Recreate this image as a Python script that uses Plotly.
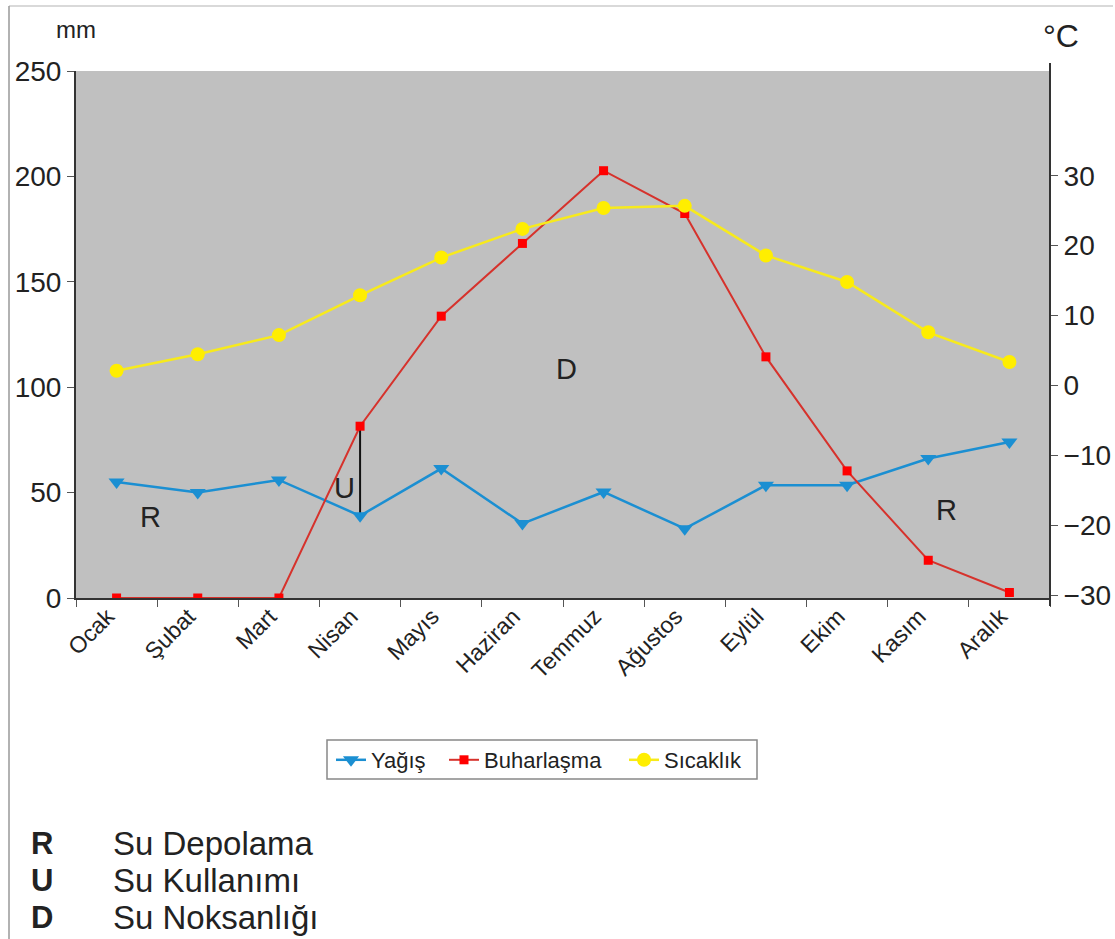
import plotly.graph_objects as go

months = ["Ocak", "Şubat", "Mart", "Nisan", "Mayıs", "Haziran", "Temmuz",
          "Ağustos", "Eylül", "Ekim", "Kasım", "Aralık"]
yagis = [55, 50, 56, 39, 61.4, 35.3, 50.3, 32.9, 53.5, 53.5, 66.2, 74]
buharlasma = [0, 0, 0, 81.5, 133.7, 168.2, 202.7, 182.4, 114.4, 60.3, 17.9, 2.6]
sicaklik = [2.1, 4.45, 7.2, 12.9, 18.3, 22.4, 25.4, 25.7, 18.6, 14.8, 7.6, 3.35]

left_ticks = [0, 50, 100, 150, 200, 250]
right_ticks = [-30, -20, -10, 0, 10, 20, 30]

W, H = 1115, 939
L, R, T, B = 76, 1050, 71, 598
FONT = "Liberation Sans, Arial, sans-serif"


def px(x):
    return (x - L) / (R - L)


def py(y):
    return (B - y) / (B - T)


fig = go.Figure()
fig.add_trace(go.Scatter(
    x=months, y=yagis, name="Yağış", mode="lines+markers", legend="legend",
    line=dict(color="#1b8fd2", width=2.5),
    marker=dict(symbol="triangle-down", size=14, color="#1b8fd2"),
))
fig.add_trace(go.Scatter(
    x=months, y=buharlasma, name="Buharlaşma", mode="lines+markers", legend="legend2",
    line=dict(color="#d6322c", width=2),
    marker=dict(symbol="square", size=9, color="#ff0000"),
))
fig.add_trace(go.Scatter(
    x=months, y=sicaklik, name="Sıcaklık", mode="lines+markers", yaxis="y2", legend="legend3",
    line=dict(color="#f7ea1c", width=2.5),
    marker=dict(symbol="circle", size=14, color="#ffee00"),
))

ni = months.index("Nisan")
shapes = [
    dict(type="line", xref="x", yref="y", x0=ni, x1=ni,
         y0=yagis[ni], y1=buharlasma[ni], line=dict(color="#111111", width=2), layer="below"),
    dict(type="line", xref="paper", yref="paper", x0=1, x1=1,
         y0=py(606), y1=py(63), line=dict(color="#333333", width=2)),
    dict(type="line", xref="paper", yref="paper", x0=px(9), x1=px(1113),
         y0=py(6), y1=py(6), line=dict(color="#cccccc", width=1.5)),
    dict(type="line", xref="paper", yref="paper", x0=px(9), x1=px(9),
         y0=py(6), y1=py(939), line=dict(color="#999999", width=1.5)),
    dict(type="rect", xref="paper", yref="paper", x0=px(327), x1=px(757),
         y0=py(779), y1=py(740), line=dict(color="#888888", width=1.5),
         fillcolor="white"),
]


def ann(text, x, y, size, xanchor="center", color="#222222"):
    return dict(text=text, x=px(x), y=py(y), xref="paper", yref="paper",
                xanchor=xanchor, yanchor="middle", showarrow=False,
                font=dict(size=size, color=color, family=FONT))


annotations = []
for txt, x, y in [("R", 150, 517), ("U", 344, 488), ("D", 566, 369), ("R", 946, 510)]:
    annotations.append(ann(txt, x, y, 29))
annotations.append(ann("mm", 76, 30, 24))
annotations.append(ann("°C", 1061, 36, 32))
for letter, desc, y in [("R", "Su Depolama", 843), ("U", "Su Kullanımı", 880),
                        ("D", "Su Noksanlığı", 917)]:
    annotations.append(ann("<b>" + letter + "</b>", 42, y, 31))
    annotations.append(ann(desc, 111, y, 33, xanchor="left"))


def leg(xpix):
    return dict(orientation="h", x=px(xpix), y=py(760), xanchor="left", yanchor="middle",
                bgcolor="rgba(0,0,0,0)", borderwidth=0,
                font=dict(size=22, family=FONT, color="#222222"))


axis_tick = dict(size=28, family=FONT, color="#222222")
fig.update_layout(
    width=W, height=H,
    margin=dict(l=L, r=W - R, t=T, b=H - B),
    paper_bgcolor="white",
    plot_bgcolor="#c0c0c0",
    font=dict(family=FONT, color="#222222"),
    showlegend=True,
    legend=leg(331),
    legend2=leg(444),
    legend3=leg(624),
    xaxis=dict(type="category", showline=True, linecolor="#333333", linewidth=2,
               showgrid=False, ticks="outside", ticklen=7, tickcolor="#555555",
               tickson="boundaries", tickangle=-45, automargin=False,
               ticklabelshift=-9, ticklabelstandoff=-6,
               tickfont=dict(size=23, family=FONT, color="#222222"),
               range=[-0.5, 11.5], zeroline=False),
    yaxis=dict(range=[0, 250], tickvals=left_ticks, showline=True, linecolor="#333333",
               linewidth=2, ticks="outside", ticklen=7, tickcolor="#555555",
               showgrid=False, zeroline=False, automargin=False, tickfont=axis_tick),
    yaxis2=dict(overlaying="y", side="right", automargin=False,
                range=[-30 - (B - 595) / 6.986, 30 + (175.8 - T) / 6.986],
                tickvals=right_ticks, showline=False, ticks="outside", ticklen=7,
                tickcolor="#555555", showgrid=False, zeroline=False, tickfont=axis_tick),
    shapes=shapes,
    annotations=annotations,
)

fig.write_html("out.html")
